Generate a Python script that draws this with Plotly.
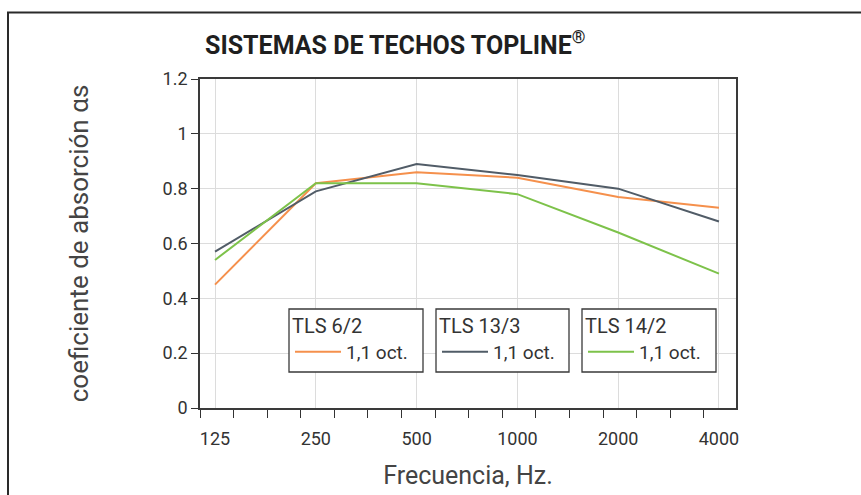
import math
import plotly.graph_objects as go

freqs = [125, 250, 500, 1000, 2000, 4000]
freq_labels = ["125", "250", "500", "1000", "2000", "4000"]
tls_6_2 = [0.45, 0.82, 0.86, 0.84, 0.77, 0.73]
tls_13_3 = [0.57, 0.79, 0.89, 0.85, 0.80, 0.68]
tls_14_2 = [0.54, 0.82, 0.82, 0.78, 0.64, 0.49]
series_names = ["TLS 6/2", "TLS 13/3", "TLS 14/2"]
item_label = "1,1 oct."
y_ticks = [0, 0.2, 0.4, 0.6, 0.8, 1, 1.2]
y_tick_labels = ["0", "0.2", "0.4", "0.6", "0.8", "1", "1.2"]

colors = ["#F5904C", "#515C67", "#7DC24A"]

W, H = 861, 495
ML, MR, MT, MB = 200, 125, 79, 87
PW = W - ML - MR
PH = H - MT - MB

xr0 = math.log10(125) - 0.149 * math.log10(2)
xr1 = math.log10(4000) + 0.169 * math.log10(2)
minor_vals = [10 ** (xr0 + k * math.log10(2) / 3) for k in range(17)]

FONT = "Roboto, Arial, sans-serif"

fig = go.Figure()
legends = ["legend", "legend2", "legend3"]
for name, vals, col, lg in zip(series_names, [tls_6_2, tls_13_3, tls_14_2], colors, legends):
    fig.add_trace(go.Scatter(
        x=freqs, y=vals, mode="lines", name=item_label,
        line=dict(color=col, width=2), legend=lg, showlegend=True,
    ))

def px2paper_x(px):
    return (px - ML) / PW

def px2paper_y(py):
    return (H - MB - py) / PH

boxes = [(289, 423), (436, 569), (582, 716)]
box_top, box_bot = 309, 372
shapes = []
for (bx0, bx1) in boxes:
    shapes.append(dict(
        type="rect", xref="paper", yref="paper",
        x0=px2paper_x(bx0), x1=px2paper_x(bx1),
        y0=px2paper_y(box_bot), y1=px2paper_y(box_top),
        line=dict(color="#3a3a3a", width=1.3), fillcolor="white", layer="above",
    ))
# outer frame
shapes.append(dict(
    type="rect", xref="paper", yref="paper",
    x0=px2paper_x(8), x1=px2paper_x(W + 20),
    y0=px2paper_y(H + 20), y1=px2paper_y(12.5),
    line=dict(color="#2a2a2a", width=2), fillcolor="rgba(0,0,0,0)", layer="above",
))

legend_common = dict(
    bgcolor="rgba(0,0,0,0)", borderwidth=0,
    font=dict(family=FONT, size=19, color="#333333"),
    xanchor="left", yanchor="top", orientation="v",
    itemwidth=46, tracegroupgap=0,
)
lay_legends = {}
for i, (lg, (bx0, bx1)) in enumerate(zip(legends, boxes)):
    lay_legends[lg] = dict(
        legend_common,
        x=px2paper_x(bx0 + 1), y=px2paper_y(box_top - 2),
        title=dict(text=series_names[i], font=dict(family=FONT, size=20, color="#333333")),
    )

fig.update_layout(
    width=W, height=H,
    margin=dict(l=ML, r=MR, t=MT, b=MB, autoexpand=False),
    paper_bgcolor="white", plot_bgcolor="white",
    title=dict(
        text="SISTEMAS DE TECHOS TOPLINE<sup>®</sup>",
        x=205 / W, xanchor="left", xref="container",
        y=1 - 45 / H, yanchor="middle", yref="container",
        font=dict(family=FONT, size=25, color="#1f1f1f", weight="bold"),
    ),
    xaxis=dict(
        type="log", range=[xr0, xr1],
        tickmode="array", tickvals=freqs, ticktext=freq_labels,
        ticks="", showgrid=True, gridcolor="#dcdcdc", gridwidth=1,
        showline=True, linecolor="#3a3a3a", linewidth=1.6, mirror=True,
        tickfont=dict(family=FONT, size=18, color="#333333"),
        ticklabelstandoff=14,
        minor=dict(tickmode="array", tickvals=minor_vals, ticks="outside",
                   ticklen=8, tickcolor="#333333", tickwidth=1, showgrid=False),
        title=dict(text="Frecuencia, Hz.", standoff=18,
                   font=dict(family=FONT, size=25, color="#444444")),
        zeroline=False,
    ),
    yaxis=dict(
        range=[0, 1.2], tickmode="array", tickvals=y_ticks, ticktext=y_tick_labels,
        ticks="outside", ticklen=7, tickcolor="#333333", tickwidth=1,
        showgrid=True, gridcolor="#dcdcdc", gridwidth=1,
        showline=True, linecolor="#3a3a3a", linewidth=1.6, mirror=True,
        tickfont=dict(family=FONT, size=18, color="#333333"),
        title=dict(text="coeficiente de absorción αs", standoff=67,
                   font=dict(family=FONT, size=26, color="#444444")),
        zeroline=False,
    ),
    shapes=shapes,
    **lay_legends,
)

fig.write_html(
    "out.html",
    config={"displayModeBar": False},
    post_script="document.body.style.margin='0';document.body.style.overflow='hidden';",
)
